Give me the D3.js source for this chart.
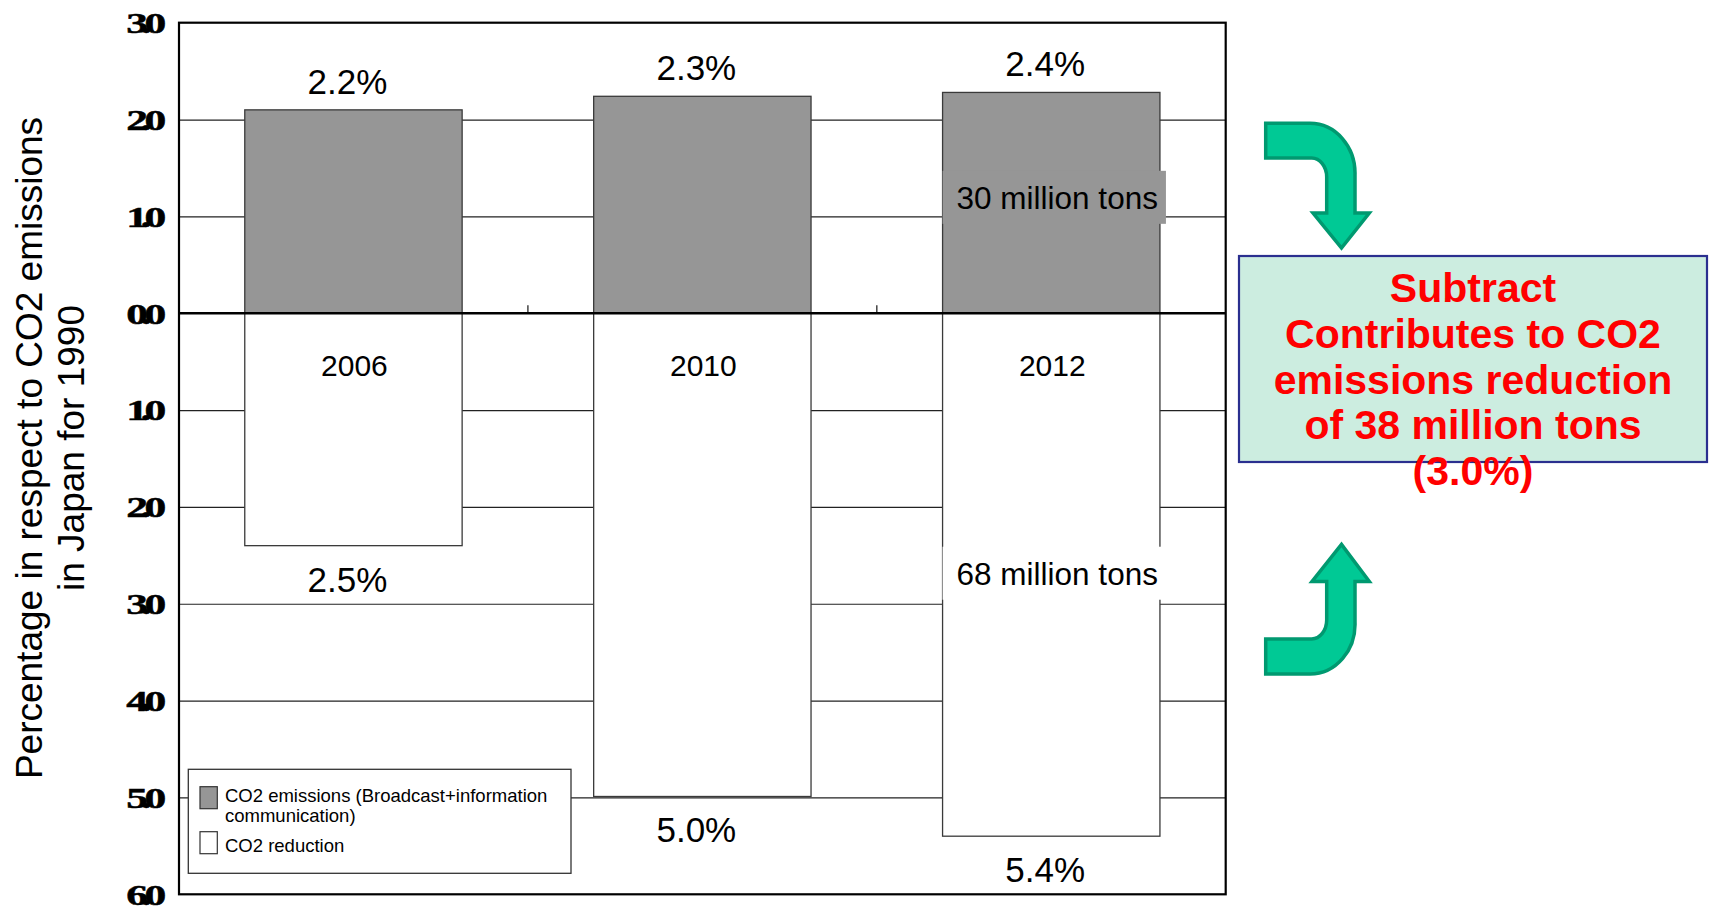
<!DOCTYPE html>
<html>
<head>
<meta charset="utf-8">
<script src="https://cdn.jsdelivr.net/npm/d3@7"></script>
<style>
  body { margin: 0; background: #fff; }
  text { font-family: "Liberation Sans", Arial, sans-serif; }
</style>
</head>
<body>
<div id="chart"></div>
<script>
// data
var years = ["2006", "2010", "2012"];
var emissions = [2.1, 2.24, 2.28];        // grey bars, above zero
var reductions = [-2.4, -4.99, -5.4];     // white bars, below zero
var emissionLabels = ["2.2%", "2.3%", "2.4%"];
var reductionLabels = ["2.5%", "5.0%", "5.4%"];
var yTicks = [3, 2, 1, 0, -1, -2, -3, -4, -5, -6];
var legendItems = ["CO2 emissions (Broadcast+information|communication)", "CO2 reduction"];
var boxLines = ["Subtract", "Contributes to CO2", "emissions reduction", "of 38 million tons", "(3.0%)"];

var svgWidth = 1710;
var svgHeight = 908;

var margin = {top: 22.7, right: 484.3, bottom: 13.7, left: 179};
var width = svgWidth - margin.left - margin.right;
var height = svgHeight - margin.top - margin.bottom;

var svg = d3.select("#chart")
    .append("svg")
    .attr("width", svgWidth)
    .attr("height", svgHeight);

var chartGroup = svg.append("g")
    .attr("transform", `translate(${margin.left}, ${margin.top})`);

var x = d3.scaleBand()
    .domain(years)
    .range([0, width])
    .paddingInner(0.377)
    .paddingOuter(0.377 / 2);

var y = d3.scaleLinear()
    .domain([-6, 3])
    .range([height, 0]);

// gridlines
chartGroup.append("g")
    .attr("class", "grid")
    .call(d3.axisLeft(y).tickValues([2, 1, -1, -2, -3, -4, -5]).tickSize(-width).tickFormat(""))
    .call(g => g.select(".domain").remove())
    .call(g => g.selectAll("line").attr("stroke", "#222").attr("stroke-width", 1.2));

// emission bars
chartGroup.selectAll(".emis")
    .data(emissions)
    .enter()
    .append("rect")
    .attr("x", (d, i) => x(years[i]))
    .attr("width", x.bandwidth())
    .attr("y", d => y(d))
    .attr("height", d => y(0) - y(d))
    .attr("fill", "#969696")
    .attr("stroke", "#3a3a3a")
    .attr("stroke-width", 1.3);

// reduction bars
chartGroup.selectAll(".red")
    .data(reductions)
    .enter()
    .append("rect")
    .attr("x", (d, i) => x(years[i]))
    .attr("width", x.bandwidth())
    .attr("y", y(0))
    .attr("height", d => y(d) - y(0))
    .attr("fill", "#fff")
    .attr("stroke", "#3a3a3a")
    .attr("stroke-width", 1.3);

// small category ticks on the zero line
chartGroup.selectAll(".ctick")
    .data(years.slice(1))
    .enter()
    .append("line")
    .attr("x1", d => x(d) - x.step() * 0.377 / 2)
    .attr("x2", d => x(d) - x.step() * 0.377 / 2)
    .attr("y1", y(0))
    .attr("y2", y(0) - 8)
    .attr("stroke", "#444")
    .attr("stroke-width", 1.5);

// zero line
chartGroup.append("line")
    .attr("x1", 0).attr("x2", width)
    .attr("y1", y(0)).attr("y2", y(0))
    .attr("stroke", "#000")
    .attr("stroke-width", 2.5);

// frame
chartGroup.append("rect")
    .attr("width", width)
    .attr("height", height)
    .attr("fill", "none")
    .attr("stroke", "#000")
    .attr("stroke-width", 2.2);

// y axis labels (squeezed, heavy digits like the original)
chartGroup.append("g")
    .call(d3.axisLeft(y).tickValues(yTicks).tickSize(0).tickPadding(0)
        .tickFormat(d => Math.abs(d).toFixed(1)))
    .call(g => g.select(".domain").remove())
    .call(g => g.selectAll("text")
        .attr("x", -20 / 1.45)
        .attr("transform", "scale(1.45,1)")
        .attr("dy", "0.33em")
        .style("font-family", "'Liberation Serif', serif")
        .style("font-weight", "bold")
        .style("font-size", "30px")
        .style("letter-spacing", "-5px")
        .attr("fill", "#000")
        .attr("stroke", "#000")
        .attr("stroke-width", 0.5));

// percentage labels
chartGroup.selectAll(".elab")
    .data(emissionLabels)
    .enter()
    .append("text")
    .attr("x", (d, i) => x(years[i]) + x.bandwidth() / 2 - 6)
    .attr("y", (d, i) => y(emissions[i]) - 16)
    .attr("text-anchor", "middle")
    .attr("font-size", "35px")
    .text(d => d);

chartGroup.selectAll(".rlab")
    .data(reductionLabels)
    .enter()
    .append("text")
    .attr("x", (d, i) => x(years[i]) + x.bandwidth() / 2 - 6)
    .attr("y", (d, i) => y(reductions[i]) + 46)
    .attr("text-anchor", "middle")
    .attr("font-size", "35px")
    .text(d => d);

// year labels
chartGroup.selectAll(".ylab")
    .data(years)
    .enter()
    .append("text")
    .attr("x", d => x(d) + x.bandwidth() / 2 + 1)
    .attr("y", y(0) + 63)
    .attr("text-anchor", "middle")
    .attr("font-size", "30px")
    .text(d => d);

// tonnage notes on the 2012 bars
var last = years.length - 1;
var notes = [
    {v: emissions[last] / 2, text: "30 million tons", bg: "#969696", dy: 6},
    {v: reductions[last] / 2, text: "68 million tons", bg: "#fff", dy: 10}
];
notes.forEach(function(n) {
    var cx = x(years[last]) + x.bandwidth() / 2 + 6;
    var cy = y(n.v);
    chartGroup.append("rect")
        .attr("x", x(years[last]))
        .attr("width", x.bandwidth() + 6)
        .attr("y", cy + n.dy - 38)
        .attr("height", 53)
        .attr("fill", n.bg);
    chartGroup.append("text")
        .attr("x", cx)
        .attr("y", cy + n.dy)
        .attr("text-anchor", "middle")
        .attr("font-size", "31.5px")
        .text(n.text);
});

// legend
var legend = chartGroup.append("g")
    .attr("transform", "translate(9.3, 746.6)");
legend.append("rect")
    .attr("width", 382.7)
    .attr("height", 104)
    .attr("fill", "#fff")
    .attr("stroke", "#333")
    .attr("stroke-width", 1.3);
legendItems.forEach(function(item, i) {
    var top = i === 0 ? 17.4 : 62.4;
    var base = i === 0 ? 15 : 20;
    legend.append("rect")
        .attr("x", 11.7).attr("y", top)
        .attr("width", 17.3).attr("height", 22)
        .attr("fill", i === 0 ? "#969696" : "#fff")
        .attr("stroke", "#333")
        .attr("stroke-width", 1.2);
    item.split("|").forEach(function(line, j) {
        legend.append("text")
            .attr("x", 36.7)
            .attr("y", top + base + j * 20)
            .attr("font-size", "18.5px")
            .text(line);
    });
});

// y axis title
svg.append("text")
    .attr("transform", "translate(42, 448) rotate(-90)")
    .attr("text-anchor", "middle")
    .attr("font-size", "37px")
    .selectAll("tspan")
    .data(["Percentage in respect to CO2 emissions", "in Japan for 1990"])
    .enter()
    .append("tspan")
    .attr("x", 0)
    .attr("dy", (d, i) => i === 0 ? 0 : 41.5)
    .text(d => d);

// green arrows
var arrowFill = "#00c995";
var arrowStroke = "#009970";
svg.append("path")
    .attr("d", "M1265.7,123.3 H1310 A45,50 0 0 1 1355,175 V213 H1369.3 L1341.5,248 L1313,213 H1326.7 V177 A15,19 0 0 0 1311.7,158.1 H1265.7 Z")
    .attr("fill", arrowFill)
    .attr("stroke", arrowStroke)
    .attr("stroke-width", 3.5);
svg.append("path")
    .attr("d", "M1265.7,674.1 H1310 A45,50 0 0 0 1355,622 V581.5 H1369.3 L1341.5,544.4 L1312,581.5 H1326.7 V620 A15,19 0 0 1 1311.7,638.9 H1265.7 Z")
    .attr("fill", arrowFill)
    .attr("stroke", arrowStroke)
    .attr("stroke-width", 3.5);

// summary box
svg.append("rect")
    .attr("x", 1239)
    .attr("y", 256)
    .attr("width", 468)
    .attr("height", 206)
    .attr("fill", "#ccede0")
    .attr("stroke", "#2a2f8f")
    .attr("stroke-width", 2.2);
svg.append("g")
    .selectAll("text")
    .data(boxLines)
    .enter()
    .append("text")
    .attr("x", 1473)
    .attr("y", (d, i) => 302 + i * 45.8)
    .attr("text-anchor", "middle")
    .attr("font-size", "41px")
    .attr("font-weight", "bold")
    .attr("fill", "#ff0000")
    .text(d => d);
</script>
</body>
</html>
